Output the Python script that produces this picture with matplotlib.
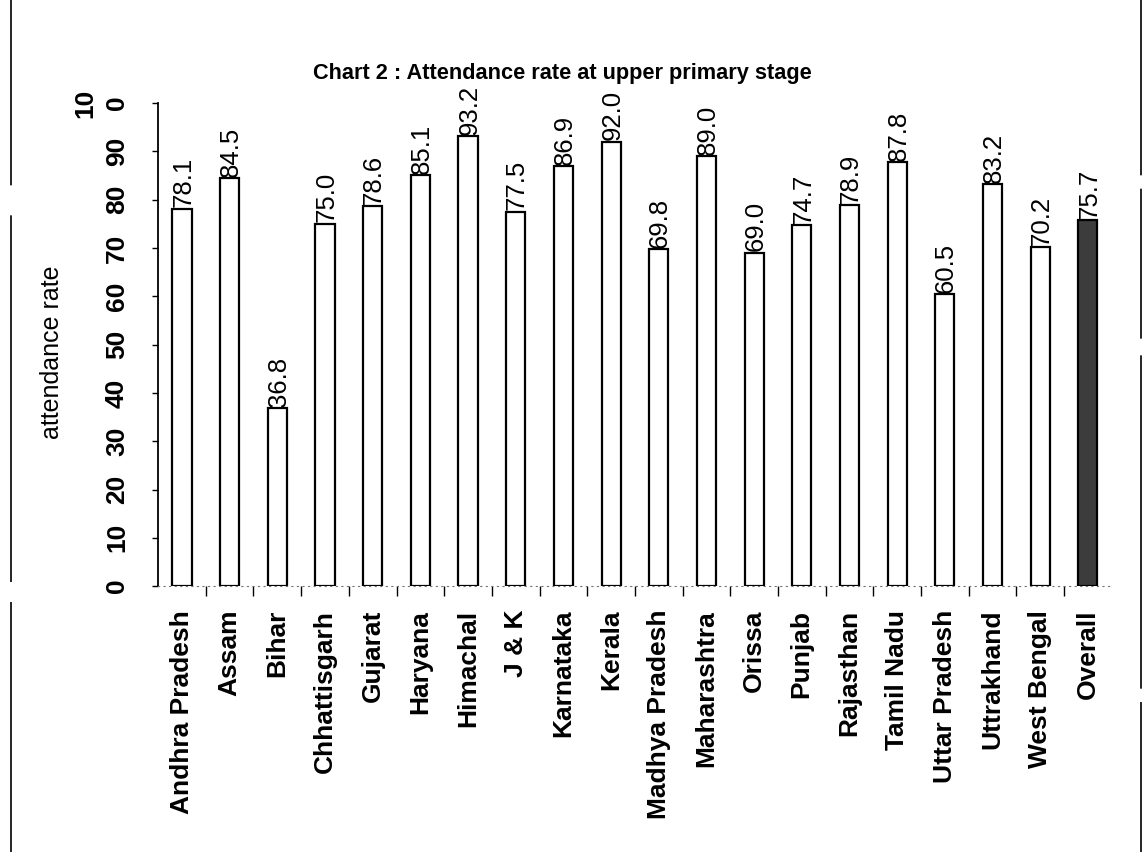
import matplotlib
matplotlib.use("Agg")
import matplotlib.pyplot as plt
from matplotlib.lines import Line2D

plt.rcParams['font.family'] = ['Liberation Sans', 'DejaVu Sans']

states = ["Andhra Pradesh", "Assam", "Bihar", "Chhattisgarh", "Gujarat", "Haryana",
          "Himachal", "J & K", "Karnataka", "Kerala", "Madhya Pradesh", "Maharashtra",
          "Orissa", "Punjab", "Rajasthan", "Tamil Nadu", "Uttar Pradesh", "Uttrakhand",
          "West Bengal", "Overall"]
rates = [78.1, 84.5, 36.8, 75.0, 78.6, 85.1, 93.2, 77.5, 86.9, 92.0, 69.8, 89.0,
         69.0, 74.7, 78.9, 87.8, 60.5, 83.2, 70.2, 75.7]
yticks = [0, 10, 20, 30, 40, 50, 60, 70, 80, 90, 100]
ytick_labels = ["0", "10", "20", "30", "40", "50", "60", "70", "80", "90", "10\n0"]

fig = plt.figure(figsize=(11.46, 8.52), dpi=100)
ax = fig.add_axes([0.138, 0.312, 0.832, 0.567])

x = list(range(len(states)))
colors = ['white'] * (len(states) - 1) + ['#3c3c3c']
bars = ax.bar(x, rates, width=0.4, color=colors, edgecolor='black', linewidth=1.6)

for xi, v in zip(x, rates):
    ax.annotate("%.1f" % v, (xi, v), xytext=(1, 1), textcoords='offset points',
                rotation=90, ha='center', va='bottom', fontsize=18.5)

ax.set_xlim(-0.5, len(states) - 0.5)
ax.set_ylim(0, 100)
ax.set_yticks(yticks)
ax.set_yticklabels(ytick_labels, rotation=90, va='center', multialignment='center',
                   fontsize=19, fontweight='bold', linespacing=1.4)
ax.tick_params(axis='y', direction='out', length=4, width=1, pad=17)

# category separators below the axis
ax.set_xticks([i + 0.5 for i in x[:-1]], minor=True)
ax.set_xticks(x)
ax.set_xticklabels(states, rotation=90, fontsize=19, fontweight='bold')
ax.tick_params(axis='x', which='major', length=0, pad=17)
ax.tick_params(axis='x', which='minor', direction='out', length=7, width=1)

ax.spines['top'].set_visible(False)
ax.spines['right'].set_visible(False)
ax.spines['left'].set_linewidth(1.3)
ax.spines['bottom'].set_linestyle((0, (1, 4)))
ax.spines['bottom'].set_linewidth(0.8)
ax.spines['bottom'].set_color('0.45')

ax.set_ylabel("attendance rate", fontsize=18)
ax.yaxis.set_label_coords(-0.099, 0.485)

fig.text(0.4905, 0.907, "Chart 2 : Attendance rate at upper primary stage",
         ha='center', va='baseline', fontsize=15.7, fontweight='bold')

# page frame lines on either side
fig.add_artist(Line2D([0.0096, 0.0096], [0.0, 1.0], color='black', lw=1.2,
                      linestyle=(0, (150, 12, 220, 18)), transform=fig.transFigure))
fig.add_artist(Line2D([0.9955, 0.9955], [0.0, 1.0], color='black', lw=1.2,
                      linestyle=(0, (90, 8, 200, 10)), transform=fig.transFigure))

plt.savefig("out.png", dpi=100)
plt.close()
